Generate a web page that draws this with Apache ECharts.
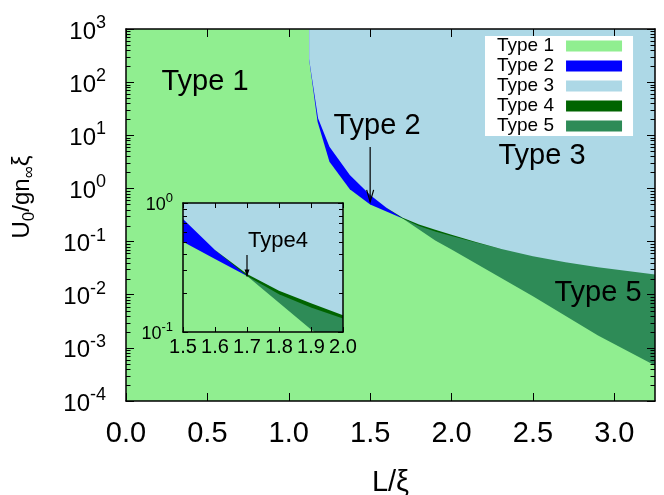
<!DOCTYPE html>
<html><head><meta charset="utf-8">
<script src="https://cdn.jsdelivr.net/npm/echarts@6/dist/echarts.min.js"></script>
<style>html,body{margin:0;padding:0;background:#fff}#c{width:664px;height:495px}</style>
</head><body><div id="c"></div>
<script>
// ---------------- data (x = L/ξ, y = U0/(g n∞ ξ)) ----------------
const xTicks = [0.0, 0.5, 1.0, 1.5, 2.0, 2.5, 3.0];
const insetXTicks = [1.5, 1.6, 1.7, 1.8, 1.9, 2.0];
const mainMinorY = [];            // log minor ticks 2..9 x 10^n
for (let e = -4; e <= 2; e++) for (let k = 2; k <= 9; k++) mainMinorY.push(k * Math.pow(10, e));
const insetMinorY = [0.2, 0.3, 0.4, 0.5, 0.6, 0.7, 0.8, 0.9];

// region boundaries (each region is filled from its lower boundary up to the top)
const type1Lower = [[0, 1e-4], [3.25, 1e-4]];
const type2Lower = [[1.125, 269], [1.177, 18.0], [1.25, 3.18], [1.375, 0.96], [1.5, 0.50], [1.6, 0.368], [1.7, 0.2716]];
const type5Lower = [[1.7, 0.2716], [1.8, 0.1687], [1.9, 0.1047], [2.0, 0.0708], [2.5, 0.00933], [2.9, 0.0017], [3.25, 0.000468]];
const type4Lower = [[1.6, 0.432], [1.7, 0.2716], [1.8, 0.196], [1.9, 0.155], [2.0, 0.127], [2.15, 0.0965], [2.3, 0.0735]];
const type3Lower = [[1.125, 269], [1.18, 20.9], [1.25, 6.1], [1.375, 1.79], [1.5, 0.75], [1.6, 0.432], [1.7, 0.282], [1.8, 0.209], [1.9, 0.167], [2.0, 0.135], [2.15, 0.098], [2.3, 0.073], [2.5, 0.0531], [2.7, 0.041], [2.9, 0.0327], [3.25, 0.024]];

const regionNames = ['Type 1', 'Type 2', 'Type 5', 'Type 4', 'Type 3'];
const regionData = [type1Lower, type2Lower, type5Lower, type4Lower, type3Lower];
const regionColors = ['#90EE90', '#0000FF', '#2E8B57', '#006400', '#ADD8E6'];

const FONT = '"Liberation Sans", Arial, Helvetica, sans-serif';

function supFormatter(v) {
  const e = Math.round(Math.log10(v));
  return '{b|10}{s|' + e + '}';
}
function supRich(base, sup, raise) {
  return {
    b: { fontSize: base, fontFamily: FONT, color: '#000', verticalAlign: 'bottom' },
    s: { fontSize: sup, fontFamily: FONT, color: '#000', verticalAlign: 'bottom', padding: [0, 0, raise, 0] }
  };
}

function regionSeries(gi, z) {
  return regionNames.map((n, i) => ({
    name: n, type: 'line', xAxisIndex: gi * 2, yAxisIndex: gi * 2,
    data: regionData[i], showSymbol: false, symbol: 'none', silent: true, z: z,
    color: regionColors[i],
    itemStyle: { color: regionColors[i], opacity: 1 },
    lineStyle: { width: 0, opacity: 0 },
    areaStyle: { color: regionColors[i], opacity: 1, origin: 'end' },
    emphasis: { disabled: true }, animation: false
  }));
}

function minorTicks(gi, values, xAt, len, z) {
  return {
    type: 'custom', xAxisIndex: gi * 2, yAxisIndex: gi * 2, silent: true, z: z, clip: false,
    data: values.map(v => [xAt, v]),
    renderItem: function (params, api) {
      const p = api.coord([api.value(0), api.value(1)]);
      const cs = params.coordSys;
      const y = Math.round(p[1]) + 0.5;
      return { type: 'group', children: [
        { type: 'line', shape: { x1: cs.x, y1: y, x2: cs.x + len, y2: y }, style: { stroke: '#000', lineWidth: 1 } },
        { type: 'line', shape: { x1: cs.x + cs.width, y1: y, x2: cs.x + cs.width - len, y2: y }, style: { stroke: '#000', lineWidth: 1 } }
      ] };
    }
  };
}

function xAx(gi, pos, min, max, interval, ticks, showLabel, fs, margin, tickLen, z) {
  return {
    gridIndex: gi, type: 'value', min: min, max: max, interval: interval, position: pos, z: z,
    axisLine: { show: true, onZero: false, lineStyle: { color: '#000', width: 1.5 } },
    axisTick: { show: true, inside: true, length: tickLen, customValues: ticks, lineStyle: { color: '#000', width: 1 } },
    axisLabel: { show: showLabel, customValues: ticks, margin: margin, fontSize: fs, fontFamily: FONT, color: '#000',
      formatter: v => (Math.abs(v / interval - Math.round(v / interval)) < 1e-6 ? v.toFixed(1) : '') },
    splitLine: { show: false }
  };
}
function yAx(gi, pos, min, max, showLabel, base, sup, raise, margin, tickLen, z) {
  return {
    gridIndex: gi, type: 'log', logBase: 10, min: min, max: max, position: pos, z: z,
    axisLine: { show: true, onZero: false, lineStyle: { color: '#000', width: 1.5 } },
    axisTick: { show: true, inside: true, length: tickLen, lineStyle: { color: '#000', width: 1 } },
    axisLabel: { show: showLabel, margin: margin, formatter: supFormatter, rich: supRich(base, sup, raise) },
    splitLine: { show: false }, minorTick: { show: false }
  };
}

const chart = echarts.init(document.getElementById('c'), null, { renderer: 'canvas' });
const mainX = xAx(0, 'bottom', 0, 3.25, 0.5, xTicks, true, 29, 18, 8, 3);
mainX.name = 'L/ξ';
mainX.nameLocation = 'middle';
mainX.nameGap = 67;
mainX.nameTextStyle = { fontSize: 29, fontFamily: FONT, color: '#000' };

const option = {
  animation: false,
  backgroundColor: '#fff',
  grid: [
    { left: 126, top: 29, width: 529, height: 372, containLabel: false, outerBoundsMode: 'none' },
    { left: 183, top: 203, width: 160, height: 129, containLabel: false, outerBoundsMode: 'none', z: 4 }
  ],
  xAxis: [
    mainX,
    xAx(0, 'top', 0, 3.25, 0.5, xTicks, false, 29, 18, 8, 3),
    xAx(1, 'bottom', 1.5, 2.0, 0.1, insetXTicks, true, 20, 5, 5, 6),
    xAx(1, 'top', 1.5, 2.0, 0.1, insetXTicks, false, 20, 5, 5, 6)
  ],
  yAxis: [
    yAx(0, 'left', 1e-4, 1e3, true, 24, 18, 12, 20, 8, 3),
    yAx(0, 'right', 1e-4, 1e3, false, 24, 18, 12, 20, 8, 3),
    yAx(1, 'left', 0.1, 1, true, 18, 13, 9, 10, 5, 6),
    yAx(1, 'right', 0.1, 1, false, 18, 13, 9, 10, 5, 6)
  ],
  legend: {
    data: ['Type 1', 'Type 2', 'Type 3', 'Type 4', 'Type 5'],
    orient: 'vertical', left: 485, top: 36, align: 'right',
    itemWidth: 56, itemHeight: 11, itemGap: 0, icon: 'rect',
    backgroundColor: '#fff', borderWidth: 0, padding: [0, 11, 0, 12],
    textStyle: { fontSize: 19, color: '#000', fontFamily: FONT, lineHeight: 20, padding: [0, 7, 0, 0] },
    selectedMode: false, z: 10
  },
  series: [].concat(
    regionSeries(0, 1),
    regionSeries(1, 4),
    [minorTicks(0, mainMinorY, 0, 4.5, 5), minorTicks(1, insetMinorY, 1.5, 4, 7)]
  )
};
chart.setOption(option);

// annotations positioned through the axes
const P0 = v => chart.convertToPixel({ xAxisIndex: 0, yAxisIndex: 0 }, v);
const P1 = v => chart.convertToPixel({ xAxisIndex: 2, yAxisIndex: 2 }, v);
const a1s = P0([1.5, 6.0]), a1e = P0([1.5, 0.56]);
const a2s = P1([1.7, 0.395]), a2e = P1([1.7, 0.269]);
const txt = (t, x, y, fs) => ({ type: 'text', z: 20, x: x, y: y,
  style: { text: t, fontSize: fs, fontFamily: FONT, fill: '#000', align: 'center', verticalAlign: 'middle' } });
chart.setOption({
  graphic: [
    txt('Type 1', 205, 82, 29),
    txt('Type 2', 377, 126, 29),
    txt('Type 3', 542, 156, 29),
    txt('Type 5', 598, 293, 29),
    txt('Type4', 278, 241, 22),
    { type: 'line', z: 20, shape: { x1: a1s[0], y1: a1s[1], x2: a1e[0], y2: a1e[1] }, style: { stroke: '#000', lineWidth: 1.2 } },
    { type: 'polyline', z: 20, shape: { points: [[a1e[0] - 3.5, a1e[1] - 12], [a1e[0], a1e[1]], [a1e[0] + 3.5, a1e[1] - 12]] }, style: { stroke: '#000', lineWidth: 1.2, fill: null } },
    { type: 'line', z: 20, shape: { x1: a2s[0], y1: a2s[1], x2: a2e[0], y2: a2e[1] }, style: { stroke: '#000', lineWidth: 1.2 } },
    { type: 'polygon', z: 20, shape: { points: [[a2e[0] - 2.5, a2e[1] - 7], [a2e[0], a2e[1]], [a2e[0] + 2.5, a2e[1] - 7]] }, style: { fill: '#000' } },
    { type: 'text', z: 20, x: 24, y: 197, rotation: Math.PI / 2,
      style: { text: '{b|U}{s|0}{b|/gn}{s|∞}{b|ξ}', align: 'center', verticalAlign: 'middle', fill: '#000', fontFamily: FONT, fontSize: 24,
        rich: { b: { fontSize: 24, fontFamily: FONT, fill: '#000', color: '#000', verticalAlign: 'top' },
                s: { fontSize: 17, fontFamily: FONT, fill: '#000', color: '#000', verticalAlign: 'top', padding: [10, 0, 0, 0] } } } }
  ]
});
</script>
</body></html>
